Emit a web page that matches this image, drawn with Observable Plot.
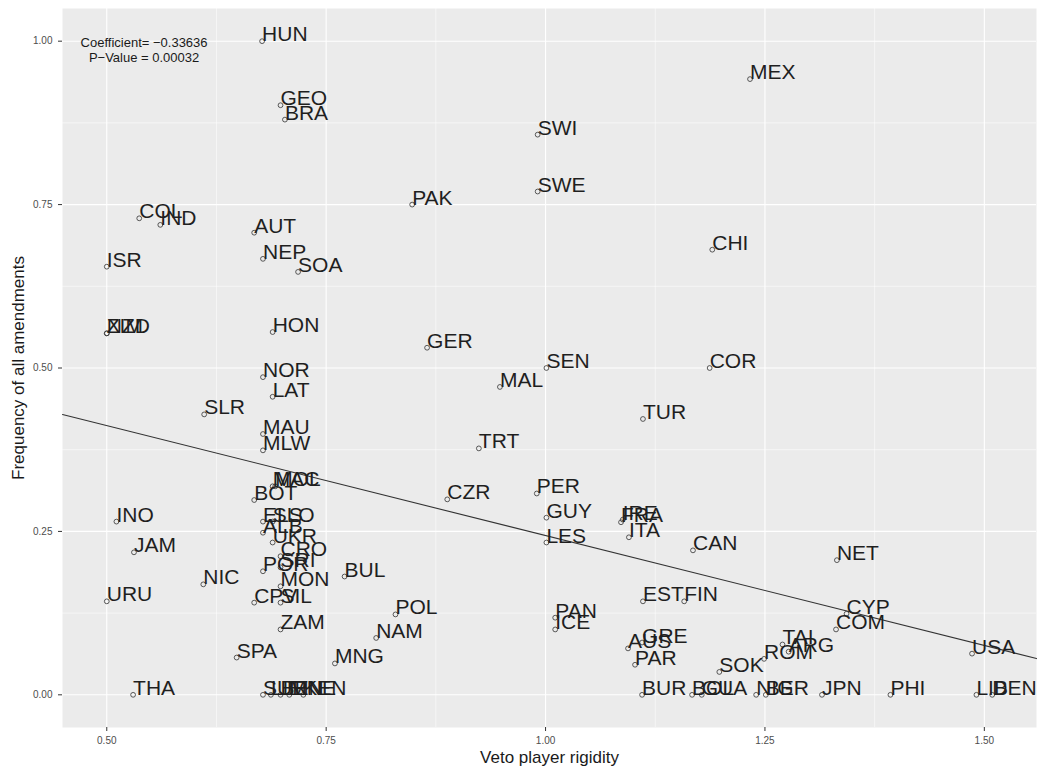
<!DOCTYPE html>
<html>
<head>
<meta charset="utf-8">
<script src="https://cdn.jsdelivr.net/npm/d3@7"></script>
<script src="https://cdn.jsdelivr.net/npm/@observablehq/plot@0.6"></script>
<style>
  html, body { margin: 0; padding: 0; background: #ffffff; }
  #chart { width: 1042px; height: 769px; }
  svg { font-family: "Liberation Sans", Arial, Helvetica, sans-serif; }
</style>
</head>
<body>
<div id="chart"></div>
<script>
// Country codes, veto player rigidity (x), frequency of all amendments (y)
const codes = [
  "HUN","MEX","GEO","BRA","SWI","SWE","PAK","COL","IND","AUT",
  "CHI","NEP","ISR","SOA","HON","NZD","ZIM","GER","SEN","COR",
  "NOR","MAL","LAT","SLR","TUR","MAU","TRT","MLW","MAC","MOL",
  "PER","CZR","BOT","GUY","IRE","FRA","INO","ELS","SLO","ITA",
  "ALB","LES","UKR","CAN","JAM","CRO","NET","POR","SRI","BUL",
  "NIC","MON","URU","CPV","SIL","EST","FIN","CYP","POL","PAN",
  "ICE","ZAM","COM","NAM","GRE","TAI","AUS","ARG","USA","SPA",
  "ROM","MNG","PAR","SOK","THA","SUR","LIE","BEN","MNE","KEN",
  "BUR","BOL","GUA","NIG","BER","JPN","PHI","LIB","DEN"
];
const rigidity = [
  0.677,1.233,0.698,0.703,0.991,0.991,0.848,0.537,0.561,0.668,
  1.190,0.678,0.500,0.718,0.689,0.500,0.500,0.865,1.001,1.187,
  0.678,0.948,0.689,0.611,1.111,0.678,0.924,0.678,0.689,0.692,
  0.990,0.888,0.668,1.001,1.088,1.086,0.511,0.678,0.689,1.095,
  0.678,1.001,0.689,1.168,0.531,0.698,1.332,0.678,0.698,0.771,
  0.610,0.698,0.500,0.668,0.698,1.111,1.158,1.343,0.829,1.011,
  1.011,0.698,1.331,0.807,1.110,1.270,1.094,1.277,1.486,0.648,
  1.249,0.760,1.102,1.198,0.530,0.678,0.687,0.698,0.708,0.724,
  1.110,1.167,1.178,1.240,1.251,1.315,1.393,1.491,1.509
];
const frequency = [
  1.000,0.942,0.902,0.880,0.857,0.770,0.750,0.729,0.719,0.707,
  0.681,0.667,0.655,0.647,0.555,0.553,0.553,0.531,0.500,0.500,
  0.486,0.471,0.456,0.429,0.422,0.399,0.377,0.374,0.319,0.319,
  0.308,0.299,0.298,0.271,0.268,0.264,0.265,0.265,0.265,0.241,
  0.248,0.233,0.233,0.221,0.218,0.212,0.206,0.189,0.195,0.181,
  0.169,0.166,0.143,0.141,0.141,0.143,0.143,0.124,0.123,0.118,
  0.100,0.100,0.100,0.087,0.080,0.077,0.071,0.066,0.063,0.057,
  0.055,0.048,0.046,0.035,0.000,0.000,0.000,0.000,0.000,0.000,
  0.000,0.000,0.000,0.000,0.000,0.000,0.000,0.000,0.000
];
const xTicks = [0.50, 0.75, 1.00, 1.25, 1.50];
const yTicks = [0.00, 0.25, 0.50, 0.75, 1.00];
const xMinor = [0.625, 0.875, 1.125, 1.375];
const yMinor = [0.125, 0.375, 0.625, 0.875];
const coefficient = -0.33636;
const intercept = 0.580;
const annotationText = "Coefficient= \u22120.33636\nP\u2212Value = 0.00032";
const annotationX = 0.5425;
const annotationY = 0.987;
const xTitle = "Veto player rigidity";
const yTitle = "Frequency of all amendments";

const points = codes.map((c, i) => ({code: c, x: rigidity[i], y: frequency[i]}));
const xExt = d3.extent(points, d => d.x);
const yExt = d3.extent(points, d => d.y);
const xPad = (xExt[1] - xExt[0]) * 0.05;
const yPad = (yExt[1] - yExt[0]) * 0.05;
const xDomain = [xExt[0] - xPad, xExt[1] + xPad];
const yDomain = [yExt[0] - yPad, yExt[1] + yPad];
const fitLine = xDomain.map(x => ({x, y: intercept + coefficient * x}));

const chart = Plot.plot({
  width: 1042,
  height: 769,
  marginLeft: 62,
  marginRight: 6,
  marginTop: 8,
  marginBottom: 42,
  x: {domain: xDomain},
  y: {domain: yDomain},
  style: {fontFamily: '"Liberation Sans", Arial, Helvetica, sans-serif', background: "#ffffff"},
  marks: [
    Plot.frame({fill: "#EBEBEB", stroke: null}),
    Plot.gridX(xMinor, {stroke: "#ffffff", strokeOpacity: 1, strokeWidth: 0.55}),
    Plot.gridY(yMinor, {stroke: "#ffffff", strokeOpacity: 1, strokeWidth: 0.55}),
    Plot.gridX(xTicks, {stroke: "#ffffff", strokeOpacity: 1, strokeWidth: 1.1}),
    Plot.gridY(yTicks, {stroke: "#ffffff", strokeOpacity: 1, strokeWidth: 1.1}),
    Plot.axisX(xTicks, {tickFormat: d3.format(".2f"), tickSize: 4, tickPadding: 5, fontSize: 10, color: "#4D4D4D", stroke: "#333333", label: null}),
    Plot.axisY(yTicks, {tickFormat: d3.format(".2f"), tickSize: 4, tickPadding: 6, fontSize: 10, color: "#4D4D4D", stroke: "#333333", label: null}),
    Plot.line(fitLine, {x: "x", y: "y", stroke: "#333333", strokeWidth: 1.1}),
    Plot.dot(points, {x: "x", y: "y", r: 2.4, stroke: "#333333", strokeWidth: 0.8, fill: "none"}),
    Plot.text(points, {x: "x", y: "y", text: "code", textAnchor: "start", lineAnchor: "bottom", fontSize: 21, fill: "#1f1f1f"}),
    Plot.text([annotationText], {x: () => annotationX, y: () => annotationY, text: d => d, textAnchor: "middle", lineAnchor: "middle", fontSize: 13, lineHeight: 1.2, fill: "#1a1a1a"}),
    Plot.text([xTitle], {frameAnchor: "bottom", text: d => d, dy: 30, fontSize: 17, fill: "#1a1a1a", textAnchor: "middle", lineAnchor: "middle"}),
    Plot.text([yTitle], {frameAnchor: "left", text: d => d, dx: -44, rotate: -90, fontSize: 17, fill: "#1a1a1a", textAnchor: "middle", lineAnchor: "middle"})
  ]
});
document.getElementById("chart").appendChild(chart);
</script>
</body>
</html>
